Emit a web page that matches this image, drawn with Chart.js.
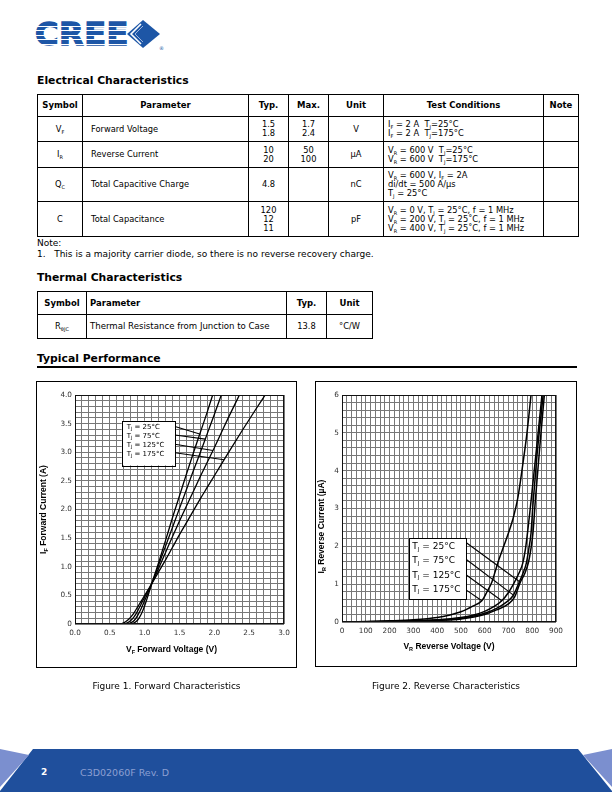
<!DOCTYPE html>
<html><head><meta charset="utf-8">
<script src="https://cdn.jsdelivr.net/npm/chart.js@4.4.0/dist/chart.umd.min.js"></script>
<style>
body{margin:0;width:612px;height:792px;position:relative;background:#fff;font-family:"DejaVu Sans",sans-serif;color:#000;overflow:hidden}
.hd{position:absolute;left:37px;margin:0;font:bold 10.8px "DejaVu Sans";line-height:11px;white-space:nowrap}
table{border-collapse:collapse;position:absolute;table-layout:fixed;font-size:8.3px;line-height:9px}
td,th{border:1px solid #000;padding:0;vertical-align:middle;white-space:nowrap;overflow:hidden}
th{font-weight:bold;font-size:8.5px;text-align:center}
td.c{text-align:center}
td.l{text-align:left;padding-left:8px}
td.tc{text-align:left;padding-left:4px}
sub{font-size:5px;vertical-align:-2px;line-height:0}
.box{position:absolute;border:1px solid #000;box-sizing:border-box}
canvas{position:absolute}
.cap{position:absolute;font:9px "DejaVu Sans";line-height:10px;text-align:center;white-space:nowrap}
.stripe{position:absolute;left:34px;width:96px;height:1.2px;background:#fff}
</style></head>
<body>
<div style="position:absolute;left:35px;top:16px;font:bold 32px 'DejaVu Sans';line-height:36px;letter-spacing:0.5px;color:#1d56a6;-webkit-text-stroke:1.4px #1d56a6">CREE</div>
<div class="stripe" style="top:25.5px"></div>
<div class="stripe" style="top:30px"></div>
<div class="stripe" style="top:34.5px"></div>
<div class="stripe" style="top:39px"></div>
<div class="stripe" style="top:43.5px"></div>
<svg style="position:absolute;left:126px;top:18px" width="40" height="34" viewBox="0 0 40 34">
<polygon points="1,16 17,2 34,16 17,30" fill="#1d56a6"/>
<polyline points="15,6 5,16 15,26" fill="none" stroke="#fff" stroke-width="1.6"/>
<polyline points="17,8 9,16 17,24" fill="none" stroke="#9fb6de" stroke-width="1"/>
<text x="33" y="32" font-size="5" fill="#1d56a6" font-family="DejaVu Sans">®</text>
</svg>

<div class="hd" style="top:75px">Electrical Characteristics</div>
<table style="left:37px;top:94px;width:541px">
<colgroup><col style="width:45px"><col style="width:166px"><col style="width:40px"><col style="width:40px"><col style="width:55px"><col style="width:160px"><col style="width:35px"></colgroup>
<tr style="height:22px"><th>Symbol</th><th>Parameter</th><th>Typ.</th><th>Max.</th><th>Unit</th><th>Test Conditions</th><th>Note</th></tr>
<tr style="height:25px"><td class="c">V<sub>F</sub></td><td class="l">Forward Voltage</td><td class="c">1.5<br>1.8</td><td class="c">1.7<br>2.4</td><td class="c">V</td><td class="tc">I<sub>F</sub> = 2 A&nbsp; T<sub>J</sub>=25°C<br>I<sub>F</sub> = 2 A&nbsp; T<sub>J</sub>=175°C</td><td></td></tr>
<tr style="height:26px"><td class="c">I<sub>R</sub></td><td class="l">Reverse Current</td><td class="c">10<br>20</td><td class="c">50<br>100</td><td class="c">µA</td><td class="tc">V<sub>R</sub> = 600 V&nbsp; T<sub>J</sub>=25°C<br>V<sub>R</sub> = 600 V&nbsp; T<sub>J</sub>=175°C</td><td></td></tr>
<tr style="height:34px"><td class="c">Q<sub>C</sub></td><td class="l">Total Capacitive Charge</td><td class="c">4.8</td><td class="c"></td><td class="c">nC</td><td class="tc">V<sub>R</sub> = 600 V, I<sub>F</sub> = 2A<br>di/dt = 500 A/µs<br>T<sub>J</sub> = 25°C</td><td></td></tr>
<tr style="height:35px"><td class="c">C</td><td class="l">Total Capacitance</td><td class="c">120<br>12<br>11</td><td class="c"></td><td class="c">pF</td><td class="tc">V<sub>R</sub> = 0 V, T<sub>J</sub> = 25°C, f = 1 MHz<br>V<sub>R</sub> = 200 V, T<sub>J</sub> = 25˚C, f = 1 MHz<br>V<sub>R</sub> = 400 V, T<sub>J</sub> = 25˚C, f = 1 MHz</td><td></td></tr>
</table>
<div style="position:absolute;left:37px;top:238px;font-size:9px;line-height:10.5px;white-space:pre">Note:
1.   This is a majority carrier diode, so there is no reverse recovery charge.</div>

<div class="hd" style="top:272px">Thermal Characteristics</div>
<table style="left:37px;top:291px;width:336px">
<colgroup><col style="width:49px"><col style="width:200px"><col style="width:40px"><col style="width:46px"></colgroup>
<tr style="height:23px"><th>Symbol</th><th style="text-align:left;padding-left:3px">Parameter</th><th>Typ.</th><th>Unit</th></tr>
<tr style="height:24px"><td class="c">R<sub>θJC</sub></td><td class="tc" style="padding-left:3px;font-size:8.6px">Thermal Resistance from Junction to Case</td><td class="c">13.8</td><td class="c">°C/W</td></tr>
</table>

<div class="hd" style="top:353px">Typical Performance</div>
<div style="position:absolute;left:37px;top:366px;width:540px;height:2px;background:#000"></div>

<canvas id="c1" width="261" height="287" style="left:36px;top:381px"></canvas>
<div class="box" style="left:36px;top:381px;width:261px;height:287px"></div>
<canvas id="c2" width="262" height="286" style="left:315px;top:381px"></canvas>
<div class="box" style="left:315px;top:381px;width:262px;height:286px"></div>

<div class="cap" style="left:36px;width:261px;top:681px">Figure 1. Forward Characteristics</div>
<div class="cap" style="left:315px;width:262px;top:681px">Figure 2. Reverse Characteristics</div>

<svg style="position:absolute;left:0;top:745px" width="612" height="47">
<polygon points="33,4 578,4 612,46 612,47 0,47 0,46" fill="#1f4f9c"/>
<polygon points="0,4 29,10 0,42" fill="#7b8fcf"/>
<polygon points="612,4 583,10 612,42" fill="#7b8fcf"/>
</svg>
<div style="position:absolute;left:41px;top:767px;font:bold 9px 'DejaVu Sans';color:#fff">2</div>
<div style="position:absolute;left:80px;top:767px;font:9.5px 'DejaVu Sans';color:#8c9fd2">C3D02060F Rev. D</div>

<script>
// ---------------- DATA ----------------
// Figure 1: forward characteristics (V, A)
const fwdXTickLabels = ['0.0','0.5','1.0','1.5','2.0','2.5','3.0'];
const fwdYTickLabels = ['0','0.5','1.0','1.5','2.0','2.5','3.0','3.5','4.0'];
const fwdSeriesTemps = ['25°C','75°C','125°C','175°C'];
const fwdT25 = [[0,0],[0.8,0],[0.85,0.02],[0.9,0.07],[0.95,0.17],[1.0,0.32],[1.05,0.5],[1.1,0.7],[1.2,1.07],[1.3,1.46],[1.4,1.86],[1.5,2.24],[1.6,2.62],[1.7,2.99],[1.8,3.35],[1.9,3.71],[1.976,4.0]];
const fwdT75 = [[0,0],[0.75,0],[0.8,0.02],[0.85,0.06],[0.9,0.15],[0.95,0.27],[1.0,0.41],[1.05,0.55],[1.1,0.7],[1.2,1.03],[1.3,1.36],[1.4,1.69],[1.5,2.02],[1.6,2.35],[1.7,2.68],[1.8,3.0],[1.9,3.33],[2.0,3.66],[2.1,4.0]];
const fwdT125 = [[0,0],[0.7,0],[0.75,0.02],[0.8,0.06],[0.85,0.13],[0.9,0.23],[0.95,0.35],[1.0,0.47],[1.05,0.58],[1.1,0.7],[1.2,0.97],[1.3,1.25],[1.4,1.53],[1.5,1.8],[1.6,2.06],[1.7,2.32],[1.8,2.58],[1.9,2.83],[2.0,3.08],[2.1,3.34],[2.2,3.6],[2.36,4.0]];
const fwdT175 = [[0,0],[0.65,0],[0.7,0.02],[0.75,0.06],[0.8,0.12],[0.85,0.2],[0.9,0.3],[0.95,0.4],[1.0,0.5],[1.05,0.6],[1.1,0.7],[1.2,0.91],[1.3,1.12],[1.4,1.34],[1.5,1.56],[1.6,1.77],[1.7,1.98],[1.8,2.19],[1.9,2.39],[2.0,2.59],[2.2,2.99],[2.4,3.38],[2.6,3.76],[2.73,4.0]];
const fwdLeaderFrom = [3.45,3.30,3.14,2.99];
const fwdLeaderTo = [[1.79,3.32],[1.87,3.23],[1.98,3.03],[2.14,2.87]];

// Figure 2: reverse characteristics (V, µA)
const revXTickLabels = ['0','100','200','300','400','500','600','700','800','900'];
const revYTickLabels = ['0','1','2','3','4','5','6'];
const revSeriesTemps = ['25°C','75°C','125°C','175°C'];
const revT25 = [[0,0],[100,0.003],[200,0.01],[300,0.02],[400,0.04],[500,0.08],[600,0.2],[650,0.32],[700,0.48],[725,0.65],[750,1.05],[770,1.3],[785,1.6],[795,1.95],[803,2.35],[813,3.2],[830,4.5],[851,6.0]];
const revT75 = [[0,0],[100,0.004],[200,0.012],[300,0.025],[400,0.05],[500,0.095],[600,0.23],[650,0.36],[690,0.52],[720,0.7],[745,1.05],[762,1.3],[775,1.55],[786,1.95],[795,2.35],[803,3.1],[820,4.4],[846,6.0]];
const revT125 = [[0,0],[100,0.005],[200,0.015],[300,0.03],[400,0.06],[500,0.12],[550,0.18],[600,0.28],[640,0.41],[672,0.56],[700,0.78],[725,1.05],[745,1.3],[760,1.55],[772,1.95],[780,2.35],[790,2.9],[800,3.5],[815,4.4],[841,6.0]];
const revT175 = [[0,0],[100,0.01],[200,0.03],[300,0.06],[400,0.12],[450,0.18],[500,0.27],[550,0.42],[588,0.56],[610,0.8],[630,1.05],[645,1.35],[660,1.65],[680,2.0],[700,2.35],[720,2.75],[740,3.3],[760,4.15],[778,5.0],[795,6.0]];
const revLeaderFrom = [2.10,1.66,1.25,0.85];
const revLeaderTo = [[750,1.05],[721,0.71],[672,0.56],[588,0.56]];

// ---------------- HELPERS ----------------
function pts(a){ return a.map(([x,y])=>({x,y})); }
function ds(a,w){ return {data:pts(a),showLine:true,borderColor:'#000',borderWidth:w,pointRadius:0,cubicInterpolationMode:'monotone',fill:false}; }
function axis(min,max,n,every,labels,size,isX,pad){
  return {type:'linear',min,max,
    afterBuildTicks:s=>{ s.ticks=Array.from({length:n+1},(_,i)=>({value:min+(max-min)*i/n})); },
    afterFit:s=>{ if(isX) s.height=size; else s.width=size; s.paddingLeft=s.paddingRight=s.paddingTop=s.paddingBottom=0; },
    grid:{color:'#777',lineWidth:1,drawTicks:false},
    border:{display:false},
    ticks:{autoSkip:false,maxRotation:0,minRotation:0,padding:pad,color:'#333',font:{family:'DejaVu Sans',size:7.3},
      callback:(v,i)=> (i%every===0 ? labels[i/every] : '')}
  };
}
function measure(ctx,parts,f,sf){ let w=0; for(const [t,s] of parts){ctx.font=s?sf:f; w+=ctx.measureText(t).width;} return w; }
function drawParts(ctx,parts,x,y,f,sf,dy){ let cx=x; for(const [t,s] of parts){ctx.font=s?sf:f; ctx.fillText(t,cx,y+(s?dy:0)); cx+=ctx.measureText(t).width;} }

const deco = {
  id:'deco',
  afterDatasetsDraw(chart,args,o){
    const {ctx,chartArea:a,scales:{x,y}} = chart;
    ctx.save();
    ctx.strokeStyle='#111'; ctx.lineWidth=1;
    ctx.strokeRect(Math.round(a.left)+0.5,Math.round(a.top)+0.5,Math.round(a.right-a.left)-1,Math.round(a.bottom-a.top)-1);
    const L=x.getPixelForValue(o.box[0]), R=x.getPixelForValue(o.box[1]);
    const T=y.getPixelForValue(o.box[3]), B=y.getPixelForValue(o.box[2]);
    ctx.strokeStyle='#000'; ctx.lineWidth=1.1;
    o.from.forEach((f,i)=>{ ctx.beginPath(); ctx.moveTo(R,y.getPixelForValue(f)); ctx.lineTo(x.getPixelForValue(o.to[i][0]),y.getPixelForValue(o.to[i][1])); ctx.stroke(); });
    ctx.fillStyle='#fff'; ctx.fillRect(L,T,R-L,B-T);
    ctx.lineWidth=1; ctx.strokeRect(Math.round(L)+0.5,Math.round(T)+0.5,Math.round(R-L),Math.round(B-T));
    ctx.fillStyle='#000'; ctx.textBaseline='middle'; ctx.textAlign='left';
    o.temps.forEach((t,i)=>{ drawParts(ctx,[['T',0],['J',1],[' = '+t,0]],L+o.tx,T+o.ty+i*o.gap,o.lf,o.lsf,o.ldy); });
    ctx.restore();
  },
  afterDraw(chart,args,o){
    const {ctx,chartArea:a} = chart;
    ctx.save(); ctx.fillStyle='#000'; ctx.textBaseline='middle'; ctx.textAlign='left';
    const f='bold 8.5px "Liberation Sans"', sf='bold 5.5px "Liberation Sans"';
    let w=measure(ctx,o.xTitle,f,sf);
    drawParts(ctx,o.xTitle,(a.left+a.right)/2+o.xdx-w/2,a.bottom+o.xdy,f,sf,2.5);
    w=measure(ctx,o.yTitle,f,sf);
    ctx.translate(o.yx,(a.top+a.bottom)/2+o.ydy); ctx.rotate(-Math.PI/2);
    drawParts(ctx,o.yTitle,-w/2,0,f,sf,2.5);
    ctx.restore();
  }
};

new Chart(document.getElementById('c1'),{
  type:'scatter',
  data:{datasets:[ds(fwdT25,1.3),ds(fwdT75,1.3),ds(fwdT125,1.3),ds(fwdT175,1.3)]},
  options:{responsive:false,animation:false,devicePixelRatio:1,
    layout:{padding:{left:0,top:14,right:13,bottom:0}},
    plugins:{legend:{display:false},tooltip:{enabled:false},
      deco:{box:[0.67,1.435,2.77,3.55],from:fwdLeaderFrom,to:fwdLeaderTo,temps:fwdSeriesTemps,
        tx:5,ty:6.5,gap:9,lf:'7px "DejaVu Sans"',lsf:'4.5px "DejaVu Sans"',ldy:2,
        xTitle:[['V',0],['F',1],[' Forward Voltage (V)',0]],xdx:-8,xdy:26,
        yTitle:[['I',0],['F',1],[' Forward Current (A)',0]],yx:8,ydy:0}},
    scales:{x:axis(0,3,30,5,fwdXTickLabels,44,true,5),y:axis(0,4,40,5,fwdYTickLabels,39,false,3)}
  },
  plugins:[deco]
});

new Chart(document.getElementById('c2'),{
  type:'scatter',
  data:{datasets:[ds(revT25,1.5),ds(revT75,1.5),ds(revT125,1.5),ds(revT175,1.5)]},
  options:{responsive:false,animation:false,devicePixelRatio:1,
    layout:{padding:{left:0,top:14,right:21,bottom:0}},
    plugins:{legend:{display:false},tooltip:{enabled:false},
      deco:{box:[283,521.7,0.59,2.21],from:revLeaderFrom,to:revLeaderTo,temps:revSeriesTemps,
        tx:3,ty:8.5,gap:14.2,lf:'9px "DejaVu Sans"',lsf:'5.5px "DejaVu Sans"',ldy:2.5,
        xTitle:[['V',0],['R',1],[' Reverse Voltage (V)',0]],xdx:0,xdy:25,
        yTitle:[['I',0],['R',1],[' Reverse Current (µA)',0]],yx:7,ydy:18}},
    scales:{x:axis(0,900,45,5,revXTickLabels,45,true,5),y:axis(0,6,30,5,revYTickLabels,27,false,3)}
  },
  plugins:[deco]
});
</script>
</body></html>
